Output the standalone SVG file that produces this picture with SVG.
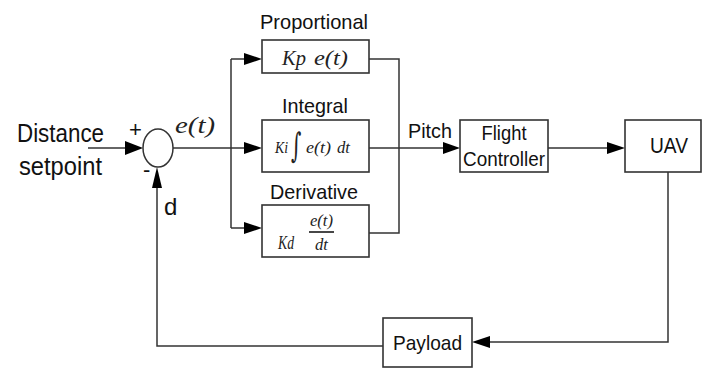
<svg xmlns="http://www.w3.org/2000/svg" width="703" height="369" viewBox="0 0 703 369">
<style>
.box{fill:#fff;stroke:#333;stroke-width:1.6}
.ln{fill:none;stroke:#333;stroke-width:1.5}
.ah{fill:#000}
.lbl{font-family:"Liberation Sans",Arial,sans-serif;fill:#111}
.m{font-family:"Liberation Serif","DejaVu Serif",serif;font-style:italic;fill:#222}
</style>
<rect width="703" height="369" fill="#fff"/>
<g id="connectors">
<path class="ln" d="M88,148 H127"/>
<path class="ln" d="M173,148 H246"/>
<path class="ln" d="M231,59 V228"/>
<path class="ln" d="M231,59 H246"/>
<path class="ln" d="M231,228 H246"/>
<path class="ln" d="M369,59 H399 V233 H369"/>
<path class="ln" d="M369,148 H445"/>
<path class="ln" d="M548,148 H609"/>
<path class="ln" d="M668,172 V342 H488"/>
<path class="ln" d="M383,346 H157 V186"/>
<polygon class="ah" points="125,141 143,148 125,155"/>
<polygon class="ah" points="152,188 157,167 162,188"/>
<polygon class="ah" points="244,53 262,59 244,65"/>
<polygon class="ah" points="244,142 262,148 244,154"/>
<polygon class="ah" points="244,222 262,228 244,234"/>
<polygon class="ah" points="443,142 460,148 443,154"/>
<polygon class="ah" points="607,142 625,148 607,154"/>
<polygon class="ah" points="490,336 472,342 490,348"/>
</g>
<g id="input">
<text class="lbl" x="17" y="142" font-size="25" textLength="87" lengthAdjust="spacingAndGlyphs">Distance</text>
<text class="lbl" x="19" y="175" font-size="25" textLength="83" lengthAdjust="spacingAndGlyphs">setpoint</text>
</g>
<g id="sum">
<ellipse cx="158" cy="148" rx="15" ry="19" fill="#fff" stroke="#333" stroke-width="1.5"/>
<text class="lbl" x="129" y="137" font-size="22">+</text>
<text class="lbl" x="143" y="177" font-size="22">-</text>
<text class="m" x="175" y="133" font-size="24" textLength="40" lengthAdjust="spacingAndGlyphs">e(t)</text>
<text class="lbl" x="164" y="215" font-size="24">d</text>
</g>
<g id="proportional">
<text class="lbl" x="260" y="29" font-size="21" textLength="108" lengthAdjust="spacingAndGlyphs">Proportional</text>
<rect class="box" x="262" y="40" width="107" height="33"/>
<text class="m" x="282" y="65" font-size="21" textLength="24" lengthAdjust="spacingAndGlyphs">Kp</text>
<text class="m" x="314" y="65" font-size="21" textLength="34" lengthAdjust="spacingAndGlyphs">e(t)</text>
</g>
<g id="integral">
<text class="lbl" x="282" y="113" font-size="21" textLength="66" lengthAdjust="spacingAndGlyphs">Integral</text>
<rect class="box" x="262" y="120" width="107" height="52"/>
<text class="m" x="275" y="153" font-size="17" textLength="13" lengthAdjust="spacingAndGlyphs">Ki</text>
<text transform="translate(291,157) scale(1,1.7)" font-size="20" font-family="'DejaVu Serif',serif" font-style="normal" fill="#222">∫</text>
<text class="m" x="306" y="153" font-size="17" textLength="25" lengthAdjust="spacingAndGlyphs">e(t)</text>
<text class="m" x="337" y="153" font-size="17" textLength="13" lengthAdjust="spacingAndGlyphs">dt</text>
</g>
<g id="derivative">
<text class="lbl" x="270" y="199" font-size="21" textLength="88" lengthAdjust="spacingAndGlyphs">Derivative</text>
<rect class="box" x="262" y="205" width="107" height="52"/>
<text class="m" x="278" y="249" font-size="18" textLength="16" lengthAdjust="spacingAndGlyphs">Kd</text>
<text class="m" x="310" y="226" font-size="17" textLength="23" lengthAdjust="spacingAndGlyphs">e(t)</text>
<line x1="309" y1="232" x2="334" y2="232" stroke="#333" stroke-width="1.8"/>
<text class="m" x="315" y="250" font-size="17" textLength="13" lengthAdjust="spacingAndGlyphs">dt</text>
</g>
<g id="pitch">
<text class="lbl" x="408" y="138" font-size="21" textLength="44" lengthAdjust="spacingAndGlyphs">Pitch</text>
</g>
<g id="flight-controller">
<rect class="box" x="460" y="120" width="88" height="52"/>
<text class="lbl" x="504" y="140" font-size="21" text-anchor="middle" textLength="45" lengthAdjust="spacingAndGlyphs">Flight</text>
<text class="lbl" x="504" y="166" font-size="21" text-anchor="middle" textLength="82" lengthAdjust="spacingAndGlyphs">Controller</text>
</g>
<g id="uav">
<rect class="box" x="625" y="120" width="76" height="52"/>
<text class="lbl" x="650" y="153" font-size="22" textLength="38" lengthAdjust="spacingAndGlyphs">UAV</text>
</g>
<g id="payload">
<rect class="box" x="383" y="318" width="89" height="49"/>
<text class="lbl" x="393" y="350" font-size="21" textLength="69" lengthAdjust="spacingAndGlyphs">Payload</text>
</g>
</svg>
